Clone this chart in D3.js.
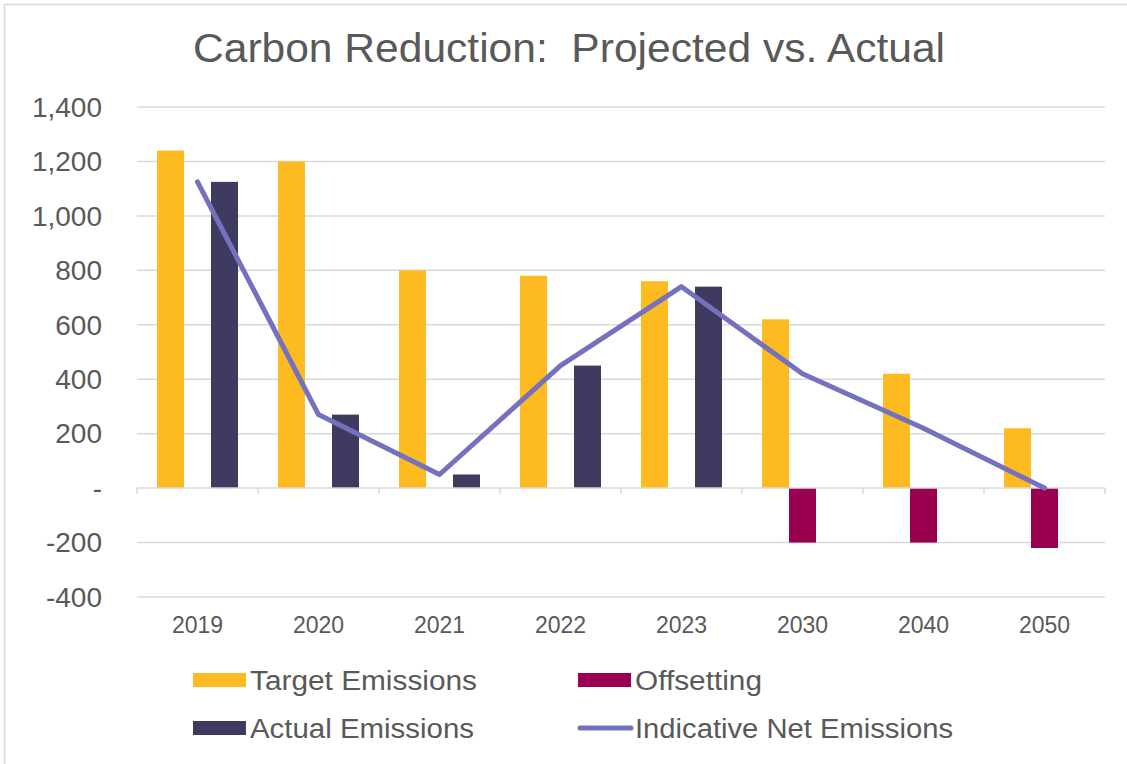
<!DOCTYPE html>
<html>
<head>
<meta charset="utf-8">
<script src="https://cdn.jsdelivr.net/npm/d3@7"></script>
<style>
  body { margin: 0; background: #fff; }
  svg text { font-family: "Liberation Sans", Arial, sans-serif; fill: #595959; }
</style>
</head>
<body>
<svg id="chart"></svg>
<script>
var years = ['2019', '2020', '2021', '2022', '2023', '2030', '2040', '2050'];
var target = [1240, 1200, 800, 780, 760, 620, 420, 220];
var offsetting = [0, 0, 0, 0, 0, -200, -200, -220];
var actual = [1125, 270, 50, 450, 740, null, null, null];
var netEmissions = [1125, 270, 50, 450, 740, 420, 220, 0];
var yTicks = [-400, -200, 0, 200, 400, 600, 800, 1000, 1200, 1400];

var W = 1127, H = 764;
var margin = {top: 107, right: 22, bottom: 167, left: 137},
    width = W - margin.left - margin.right,
    height = H - margin.top - margin.bottom;

var svg = d3.select('#chart')
    .attr('width', W)
    .attr('height', H);

// chart border
svg.append('rect')
    .attr('x', 4.5).attr('y', 4.5)
    .attr('width', W + 10).attr('height', H + 10)
    .attr('fill', 'none')
    .attr('stroke', '#d9d9d9')
    .attr('stroke-width', 1.5);

svg.append('text')
    .text('Carbon Reduction:  Projected vs. Actual')
    .attr('x', 569)
    .attr('y', 62)
    .attr('text-anchor', 'middle')
    .attr('textLength', 752)
    .attr('lengthAdjust', 'spacingAndGlyphs')
    .style('white-space', 'pre')
    .style('font-size', '41px');

var g = svg.append('g')
    .attr('transform', 'translate(' + margin.left + ',' + margin.top + ')');

var x = d3.scaleBand().domain(years).range([0, width]);
var y = d3.scaleLinear().domain([-400, 1400]).range([height, 0]);
var inner = d3.scaleBand()
    .domain(['target', 'offsetting', 'actual'])
    .range([20, x.bandwidth() - 20]);

// gridlines
g.selectAll('.grid')
  .data(yTicks.filter(d => d !== 0))
  .enter()
  .append('line')
    .attr('x1', 0).attr('x2', width)
    .attr('y1', d => y(d)).attr('y2', d => y(d))
    .attr('stroke', '#d9d9d9')
    .attr('stroke-width', 1.5);

// y labels
var fmt = d3.format(',');
g.selectAll('.ylab')
  .data(yTicks)
  .enter()
  .append('text')
    .attr('x', -35)
    .attr('y', d => y(d))
    .attr('dy', '0.35em')
    .attr('text-anchor', 'end')
    .style('font-size', '28px')
    .text(d => d === 0 ? '-' : fmt(d).replace('\u2212', '-'));

// bars
function bars(values, key, color) {
  g.selectAll('.bar-' + key)
    .data(values.map((v, i) => ({year: years[i], v: v})).filter(d => d.v !== null && d.v !== 0))
    .enter()
    .append('rect')
      .attr('x', d => x(d.year) + inner(key))
      .attr('width', inner.bandwidth())
      .attr('y', d => y(Math.max(0, d.v)))
      .attr('height', d => Math.abs(y(d.v) - y(0)))
      .attr('fill', color);
}
bars(target, 'target', '#FDBA21');
bars(offsetting, 'offsetting', '#990050');
bars(actual, 'actual', '#3F3A60');

// zero axis with tick marks
g.append('line')
    .attr('x1', 0).attr('x2', width)
    .attr('y1', y(0)).attr('y2', y(0))
    .attr('stroke', '#d9d9d9')
    .attr('stroke-width', 1.5);
g.selectAll('.xtick')
  .data(d3.range(years.length + 1))
  .enter()
  .append('line')
    .attr('x1', i => i * x.bandwidth()).attr('x2', i => i * x.bandwidth())
    .attr('y1', y(0)).attr('y2', y(0) + 6)
    .attr('stroke', '#d9d9d9')
    .attr('stroke-width', 1.5);

// x labels
g.selectAll('.xlab')
  .data(years)
  .enter()
  .append('text')
    .attr('x', d => x(d) + x.bandwidth() / 2)
    .attr('y', height + 36)
    .attr('text-anchor', 'middle')
    .style('font-size', '23px')
    .text(d => d);

// net emissions line
var line = d3.line()
    .x((d, i) => x(years[i]) + x.bandwidth() / 2)
    .y(d => y(d));
g.append('path')
    .datum(netEmissions)
    .attr('d', line)
    .attr('fill', 'none')
    .attr('stroke', '#7471BF')
    .attr('stroke-width', 5)
    .attr('stroke-linecap', 'round')
    .attr('stroke-linejoin', 'round');

// legend
var legend = [
  {name: 'Target Emissions', color: '#FDBA21', type: 'rect', x: 193, y: 680},
  {name: 'Offsetting', color: '#990050', type: 'rect', x: 578, y: 680},
  {name: 'Actual Emissions', color: '#3F3A60', type: 'rect', x: 193, y: 728},
  {name: 'Indicative Net Emissions', color: '#7471BF', type: 'line', x: 578, y: 728}
];
var lg = svg.selectAll('.legend')
  .data(legend)
  .enter()
  .append('g')
    .attr('transform', d => 'translate(' + d.x + ',' + d.y + ')');
lg.filter(d => d.type === 'rect')
  .append('rect')
    .attr('x', 0).attr('y', -7)
    .attr('width', 53).attr('height', 14)
    .attr('fill', d => d.color);
lg.filter(d => d.type === 'line')
  .append('line')
    .attr('x1', 2).attr('x2', 53)
    .attr('y1', 0).attr('y2', 0)
    .attr('stroke', d => d.color)
    .attr('stroke-width', 5)
    .attr('stroke-linecap', 'round');
lg.append('text')
    .attr('x', 57)
    .attr('y', 0)
    .attr('dy', '0.36em')
    .style('font-size', '27px')
    .attr('textLength', d => ({'Target Emissions': 227, 'Offsetting': 127, 'Actual Emissions': 224, 'Indicative Net Emissions': 318})[d.name])
    .attr('lengthAdjust', 'spacingAndGlyphs')
    .text(d => d.name);
</script>
</body>
</html>
